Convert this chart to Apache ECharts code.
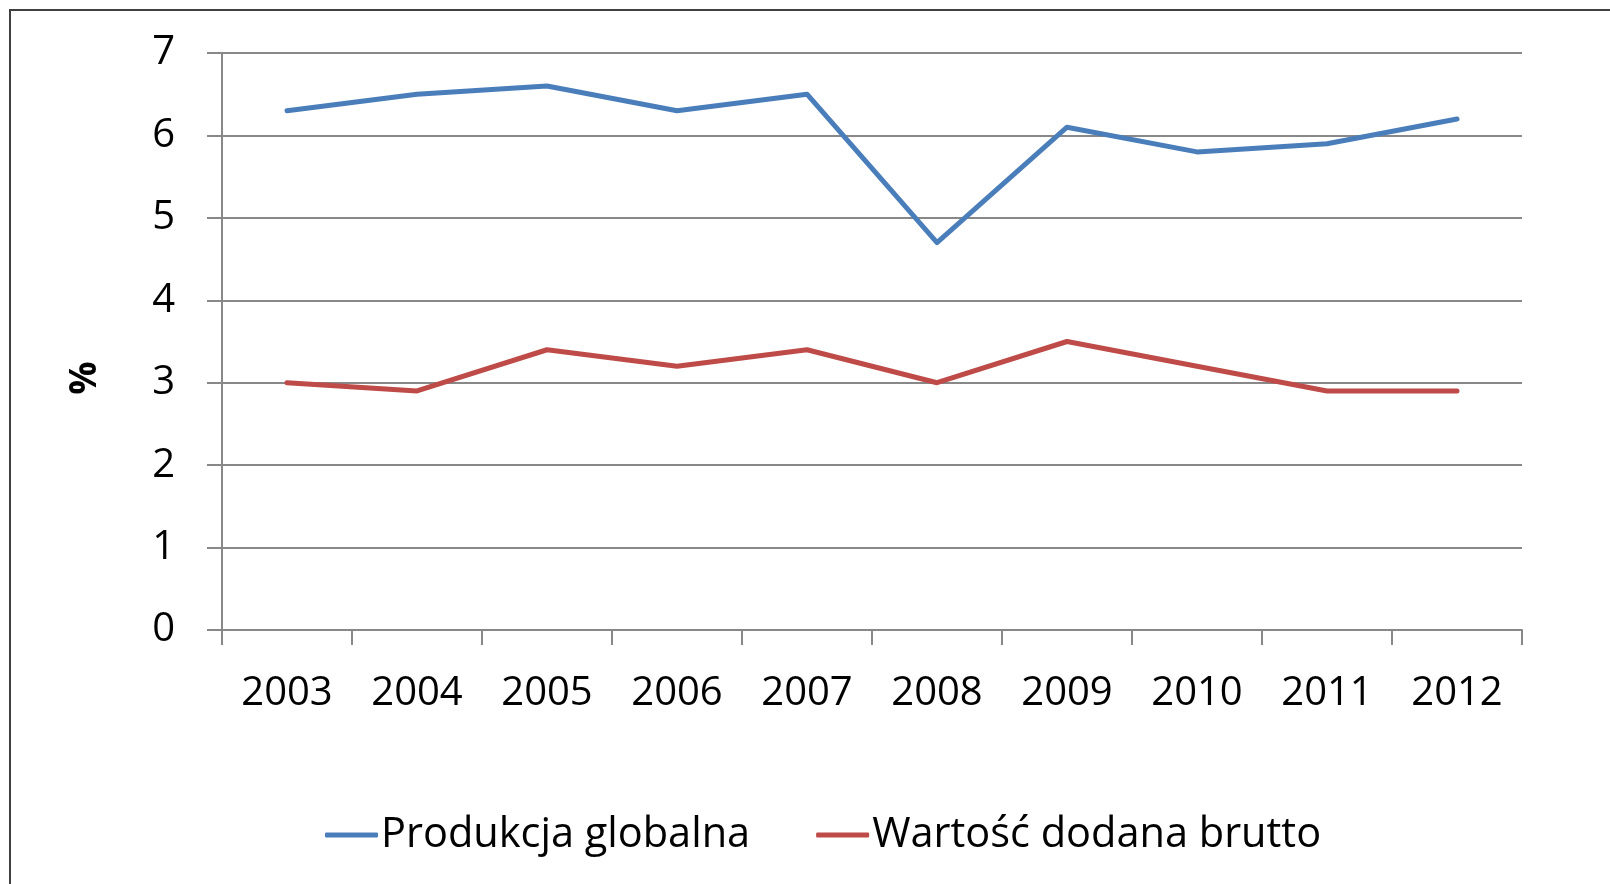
<!DOCTYPE html>
<html>
<head>
<meta charset="utf-8">
<script src="https://cdn.jsdelivr.net/npm/echarts@6/dist/echarts.min.js"></script>
<style>
html, body { margin: 0; padding: 0; background: #fff; }
#chart { width: 1610px; height: 884px; }
</style>
</head>
<body>
<div id="chart"></div>
<script>
// dane
var years = ['2003', '2004', '2005', '2006', '2007', '2008', '2009', '2010', '2011', '2012'];
var produkcja = [6.3, 6.5, 6.6, 6.3, 6.5, 4.7, 6.1, 5.8, 5.9, 6.2];
var wartosc = [3.0, 2.9, 3.4, 3.2, 3.4, 3.0, 3.5, 3.2, 2.9, 2.9];
var yTicks = [0, 1, 2, 3, 4, 5, 6, 7];

var myChart = echarts.init(document.getElementById('chart'));

var font = '"Open Sans", Lato, sans-serif';

var option = {
    animation: false,
    backgroundColor: '#fff',
    textStyle: { fontFamily: font },
    graphic: [
        {
            // ramka wykresu (widoczna tylko z lewej i u góry)
            type: 'rect',
            shape: { x: 10, y: 10, width: 1800, height: 1000 },
            style: { fill: 'none', stroke: '#404040', lineWidth: 2 }
        },
        {
            type: 'text',
            x: 85,
            y: 378,
            rotation: Math.PI / 2,
            style: {
                text: '%',
                fontSize: 37,
                fontWeight: 'bold',
                fontFamily: font,
                fill: '#000',
                align: 'center',
                verticalAlign: 'middle'
            }
        }
    ],
    grid: {
        left: 222,
        right: 88,
        top: 53,
        bottom: 254
    },
    legend: {
        left: 320,
        top: 809,
        itemWidth: 53,
        itemHeight: 5,
        itemGap: 66,
        icon: 'roundRect',
        textStyle: { fontSize: 41.5, color: '#000', fontFamily: font, padding: [0, 0, 0, -2] },
        data: ['Produkcja globalna', 'Wartość dodana brutto']
    },
    xAxis: {
        type: 'category',
        data: years,
        boundaryGap: true,
        axisLine: { lineStyle: { color: '#888', width: 2 } },
        axisTick: { show: true, length: 15, lineStyle: { color: '#888', width: 2 } },
        axisLabel: { fontSize: 40, color: '#000', margin: 44, fontFamily: font }
    },
    yAxis: {
        type: 'value',
        min: 0,
        max: 7,
        interval: 1,
        axisLine: { show: true, lineStyle: { color: '#888', width: 2 } },
        axisTick: { show: true, length: 15, lineStyle: { color: '#888', width: 2 } },
        axisLabel: {
            fontSize: 40, color: '#000', margin: 47, fontFamily: font,
            formatter: function (v) { return yTicks.indexOf(v) >= 0 ? String(v) : ''; }
        },
        splitLine: { show: true, lineStyle: { color: '#888', width: 2 } }
    },
    series: [
        {
            name: 'Produkcja globalna',
            type: 'line',
            data: produkcja,
            symbol: 'none',
            color: '#4a7ebb',
            lineStyle: { width: 5, color: '#4a7ebb', cap: 'round', join: 'round' }
        },
        {
            name: 'Wartość dodana brutto',
            type: 'line',
            data: wartosc,
            symbol: 'none',
            color: '#be4b48',
            lineStyle: { width: 5, color: '#be4b48', cap: 'round', join: 'round' }
        }
    ]
};

myChart.setOption(option);
window.onresize = function () { myChart.resize(); };
</script>
</body>
</html>
